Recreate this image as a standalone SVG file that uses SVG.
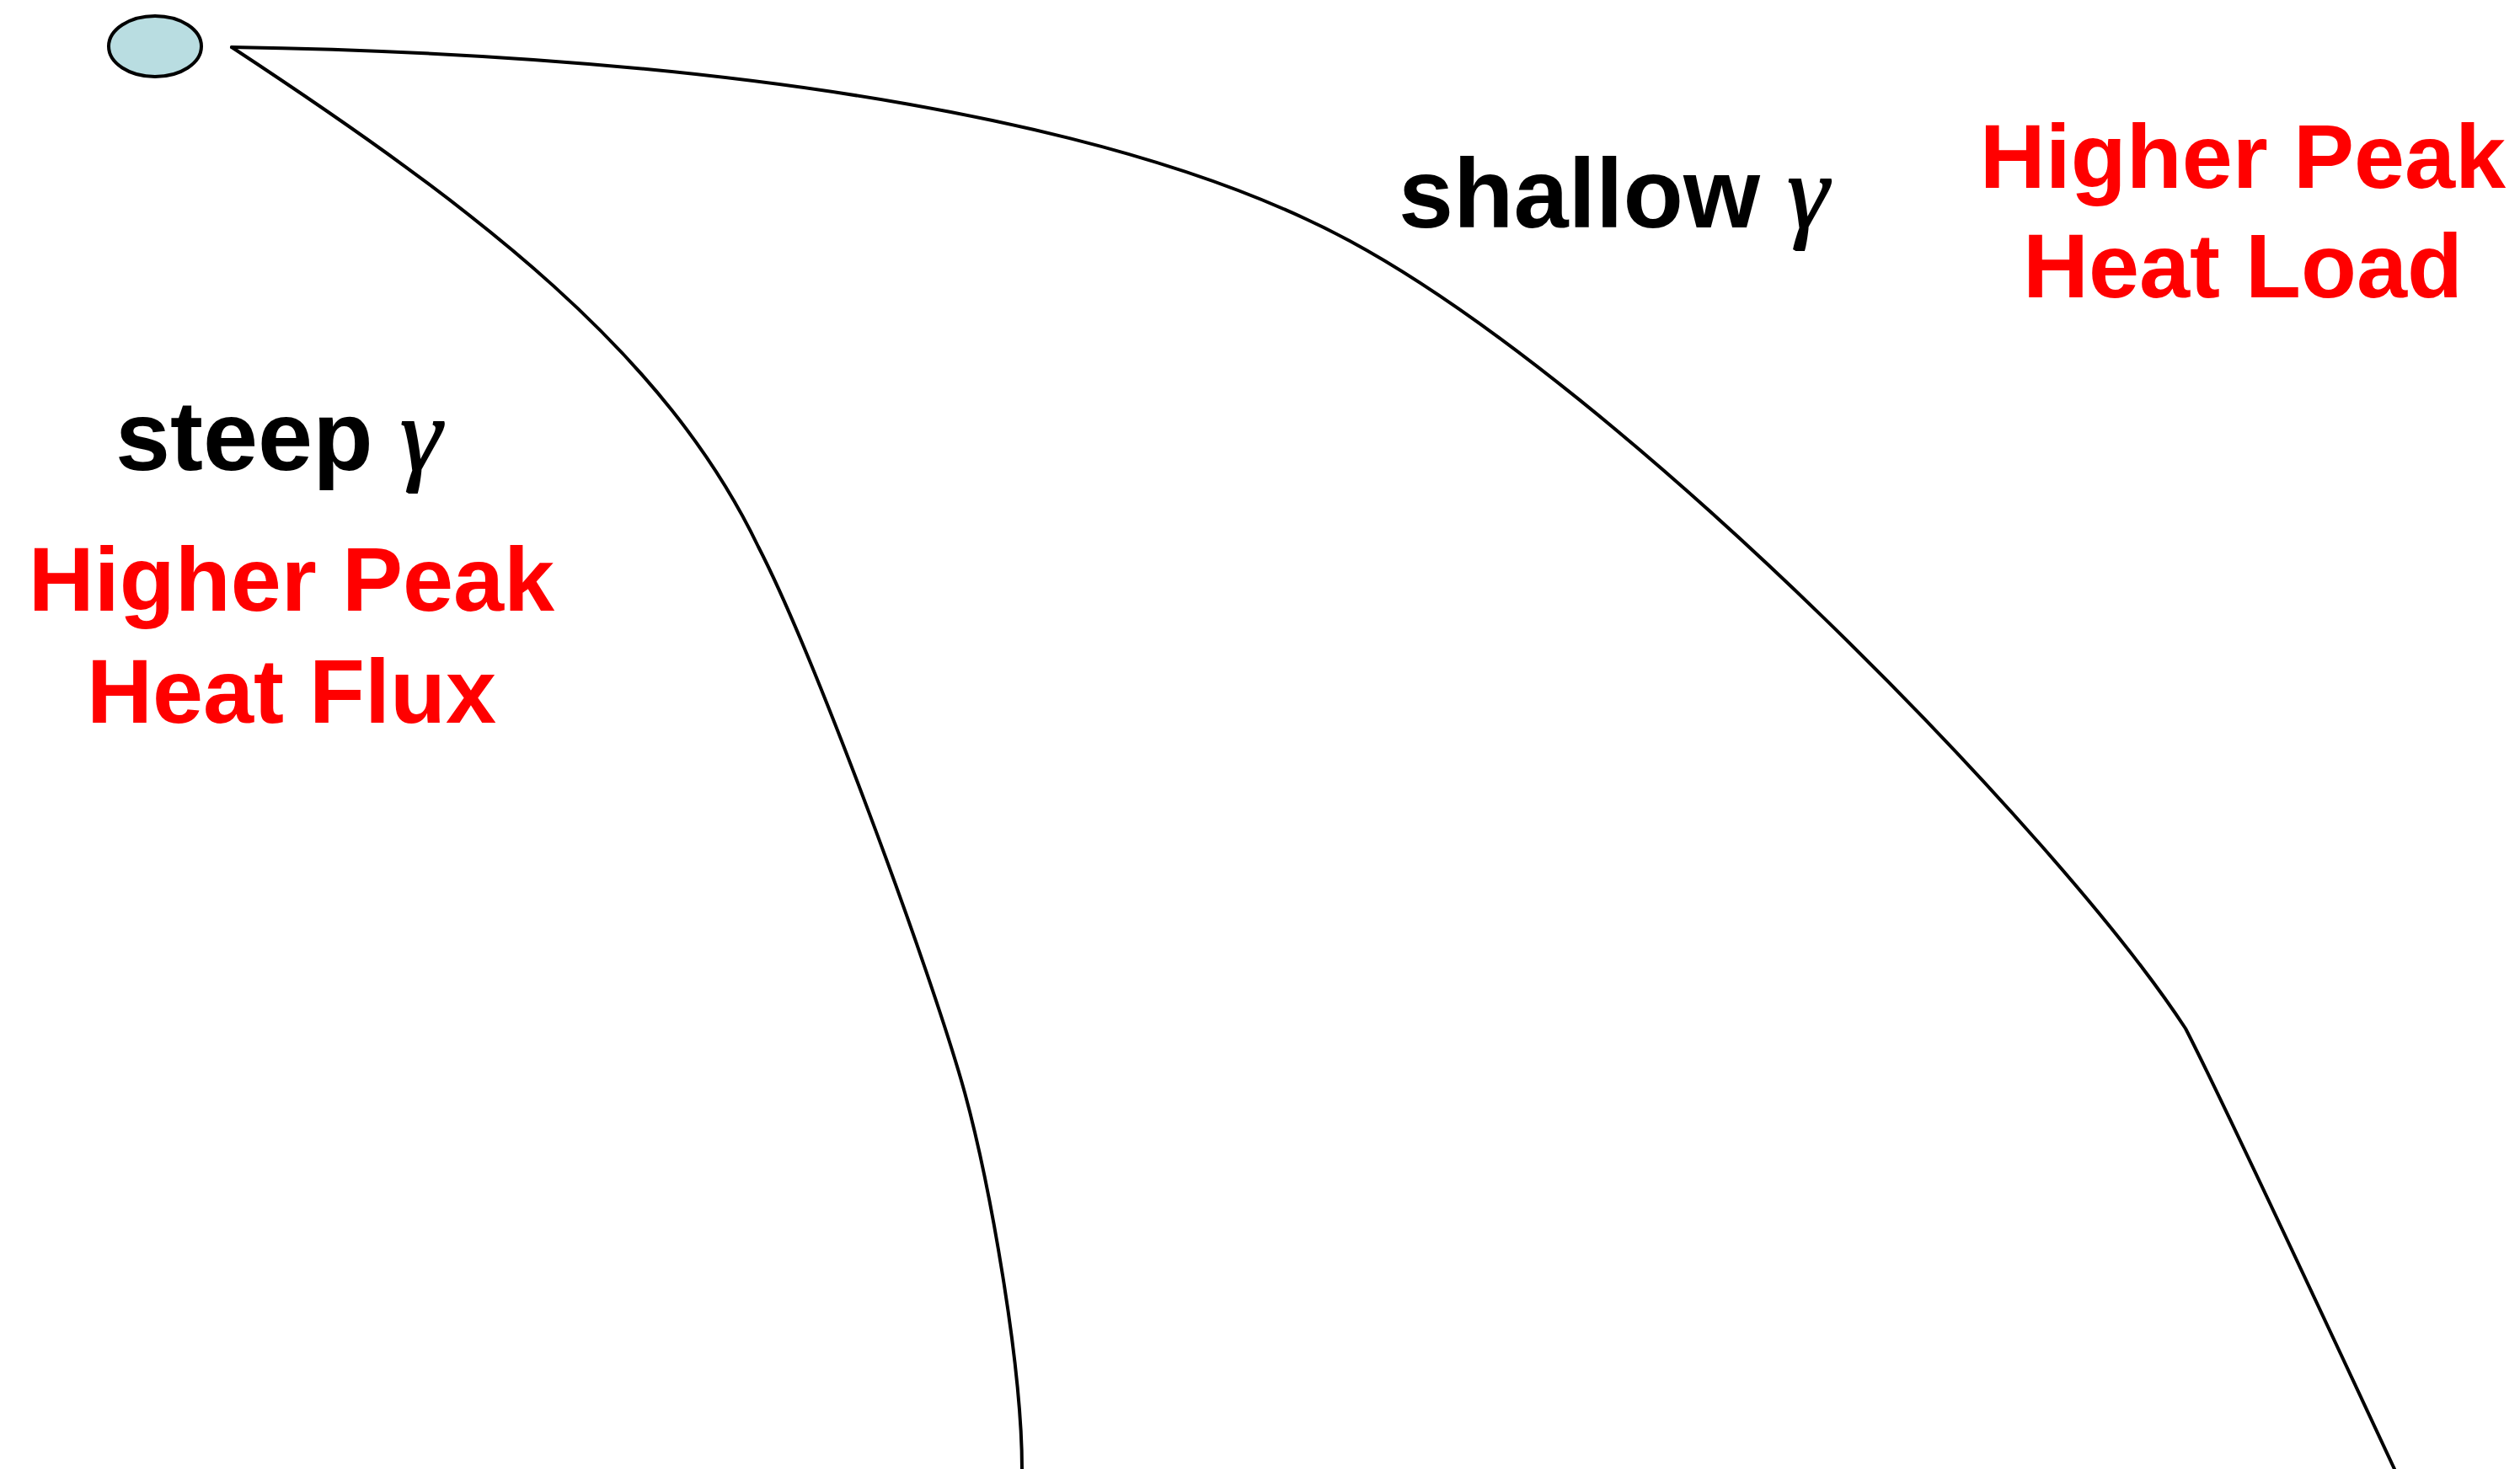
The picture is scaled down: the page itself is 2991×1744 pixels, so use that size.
<svg xmlns="http://www.w3.org/2000/svg" width="2991" height="1744" viewBox="0 0 2991 1744">
<style>
.curve{fill:none;stroke:#000;stroke-width:4;stroke-linecap:round;stroke-linejoin:round}
.blk{font-family:"Liberation Sans",Arial,sans-serif;font-weight:bold;font-size:117px;fill:#000}
.red{font-family:"Liberation Sans",Arial,sans-serif;font-weight:bold;font-size:108px;fill:#ff0000;text-anchor:middle}
.gam{font-family:"Liberation Serif","DejaVu Serif",serif;font-weight:normal;font-style:italic;font-size:124px;stroke:#000;stroke-width:2}
</style>
<rect width="2991" height="1744" fill="#fff"/>
<g id="source">
<ellipse cx="184" cy="55" rx="55" ry="36" fill="#b9dde1" stroke="#000" stroke-width="4"/>
</g>
<g id="connectors">
<path id="steep-curve" class="curve" d="M275,56 C570,250 790,420 900,649 C965,775 1105,1152 1145,1297 C1175,1407 1213,1620 1213,1744"/>
<path id="shallow-curve" class="curve" d="M275,56 C900,66 1350,150 1602,286 C1930,463 2444,991 2594,1221 C2640,1310 2770,1590 2842,1744"/>
</g>
<g id="label-steep">
<text class="blk" x="137" y="558">steep <tspan class="gam">γ</tspan></text>
</g>
<g id="label-flux">
<text class="red" x="346" y="725">Higher Peak</text>
<text class="red" x="346" y="858">Heat Flux</text>
</g>
<g id="label-shallow">
<text class="blk" x="1660" y="270">shallow <tspan class="gam">γ</tspan></text>
</g>
<g id="label-load">
<text class="red" x="2662" y="223">Higher Peak</text>
<text class="red" x="2662" y="353">Heat Load</text>
</g>
</svg>
